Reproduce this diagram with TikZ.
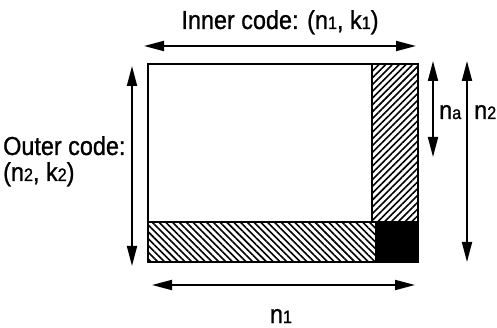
\documentclass[tikz,border=0pt]{standalone}
\usepackage{fontspec}
\setmainfont[FakeStretch=0.9,FakeBold=1]{Liberation Sans}
\usetikzlibrary{arrows.meta,patterns.meta}
\newcommand{\lo}[1]{{\fontsize{18}{18}\selectfont #1}}

\begin{document}
\begin{tikzpicture}[x=1pt,y=-1pt,
  sizearrow/.style={line width=1.8pt, {Triangle[length=20pt,width=10pt]}-{Triangle[length=20pt,width=10pt]}},
  lbl/.style={inner sep=0pt, font=\fontsize{26}{30}\selectfont},
  hatchup/.style={pattern={Lines[angle=45,distance=4.8pt,line width=1.6pt]}},
  hatchdown/.style={pattern={Lines[angle=-45,distance=4.8pt,line width=1.6pt]}}]
  \useasboundingbox (0,0) rectangle (497,328);

  % Shaded check parts
  \fill[hatchup] (372,64) rectangle (418,222);
  \fill[hatchdown] (148,222) rectangle (375,262);
  \fill[black] (375,222) rectangle (418,262);

  % Code array
  \draw[line width=2.5pt] (148,64) rectangle (418,262);
  \draw[line width=2pt] (372,64) -- (372,222);
  \draw[line width=2pt] (148,222) -- (418,222);

  % Dimension ends
  \coordinate (innerL) at (144,46);
  \coordinate (innerR) at (416,46);
  \coordinate (outerT) at (132,66);
  \coordinate (outerB) at (132,266);
  \coordinate (naT) at (433,61);
  \coordinate (naB) at (433,157);
  \coordinate (ntwoT) at (467,61);
  \coordinate (ntwoB) at (467,262);
  \coordinate (noneL) at (152,285);
  \coordinate (noneR) at (415,285);

  % Dimension arrows
  \draw[sizearrow] (innerL) -- (innerR);
  \draw[sizearrow] (outerT) -- (outerB);
  \draw[sizearrow] (naT) -- (naB);
  \draw[sizearrow] (ntwoT) -- (ntwoB);
  \draw[sizearrow] (noneL) -- (noneR);

  % Labels
  \node[lbl, anchor=base] (inner) at (280,29) {Inner code: (n\lo{1}, k\lo{1})};
  \node[lbl, anchor=base west] (outer) at (3,155) {Outer code:};
  \node[lbl, anchor=base west] (outerpar) at (3,181) {(n\lo{2}, k\lo{2})};
  \node[lbl, anchor=base west] (na) at (439,119) {n\lo{a}};
  \node[lbl, anchor=base west] (ntwo) at (474,119) {n\lo{2}};
  \node[lbl, anchor=base] (none) at (281,323) {n\lo{1}};

\end{tikzpicture}
\end{document}
